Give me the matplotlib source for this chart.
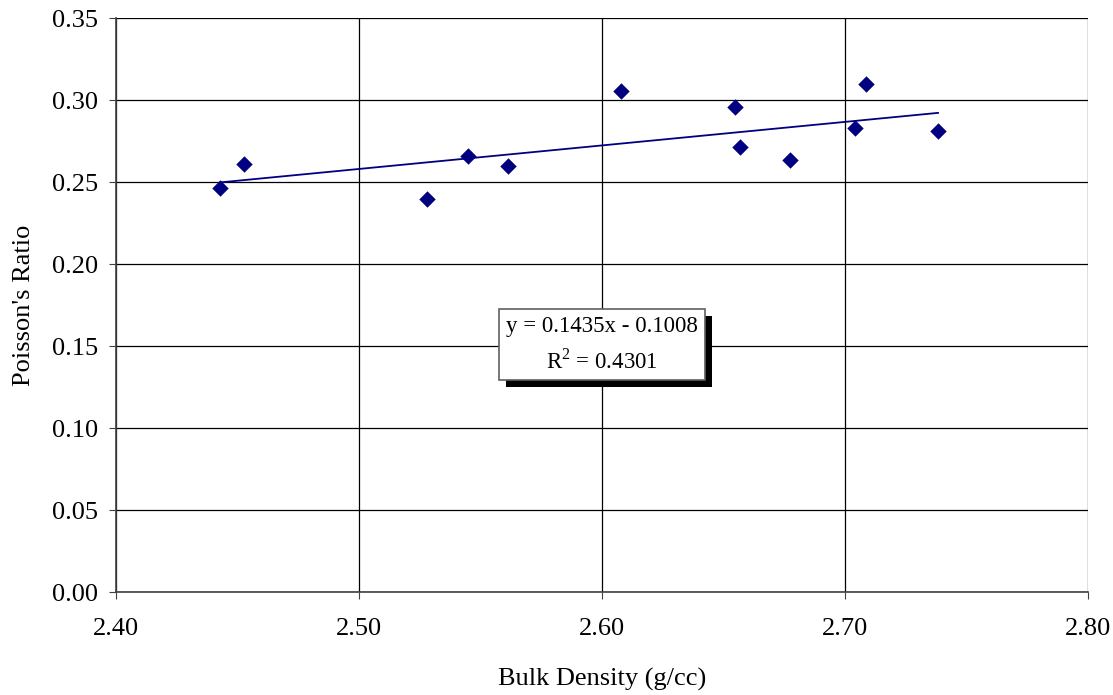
import matplotlib
matplotlib.use("Agg")
import numpy as np
import matplotlib.pyplot as plt
import matplotlib.patheffects as pe

plt.rcParams['font.family'] = ['Liberation Serif', 'DejaVu Serif']
plt.rcParams['mathtext.fontset'] = 'custom'
plt.rcParams['mathtext.rm'] = 'Liberation Serif'

density = [2.443, 2.4527, 2.528, 2.5449, 2.5613, 2.6078, 2.6547, 2.6568, 2.6774, 2.7041, 2.7086, 2.7383]
poisson = [0.2463, 0.2610, 0.2396, 0.2659, 0.2598, 0.3055, 0.2957, 0.2713, 0.2634, 0.2829, 0.3098, 0.2811]
slope, intercept = 0.1435, -0.1008

fig = plt.figure(figsize=(11.13, 6.95), dpi=100)
ax = fig.add_axes([0.1042, 0.1482, 0.8733, 0.8259])

ax.scatter(density, poisson, marker='D', s=70, color='#000080', zorder=3, linewidths=0)
xt = np.array([min(density), max(density)])
ax.plot(xt, slope * xt + intercept, color='#000080', lw=1.3, zorder=2)

ax.set_xlim(2.40, 2.80)
ax.set_ylim(0.0, 0.35)
ax.set_xticks(np.arange(2.40, 2.81, 0.10))
ax.set_yticks(np.arange(0.0, 0.351, 0.05))
ax.xaxis.set_major_formatter(plt.FuncFormatter(lambda v, p: f"{v:.2f}"))
ax.yaxis.set_major_formatter(plt.FuncFormatter(lambda v, p: f"{v:.2f}"))
ax.grid(True, color='black', lw=0.9)
ax.set_axisbelow(True)
for s in ['top', 'right']:
    ax.spines[s].set_visible(False)
for s in ['left', 'bottom']:
    ax.spines[s].set_color('#404040')
    ax.spines[s].set_linewidth(1.2)
ax.tick_params(axis='both', labelsize=19, direction='out', length=5, color='#404040')
ax.tick_params(axis='x', pad=14)
ax.tick_params(axis='y', pad=8)

ax.set_xlabel('Bulk Density (g/cc)', fontsize=19, labelpad=20)
ax.set_ylabel("Poisson's Ratio", fontsize=19, labelpad=12)

t = ax.text(2.6, 0.1508, 'y = 0.1435x - 0.1008\nR$^2$ = 0.4301', fontsize=16.5,
            ha='center', va='center', linespacing=1.6, zorder=5,
            bbox=dict(boxstyle='square,pad=0.3', fc='white', ec='#606060', lw=1.2))
t.get_bbox_patch().set_path_effects([pe.SimplePatchShadow(offset=(5, -5), shadow_rgbFace='black', alpha=1), pe.Normal()])

fig.savefig('out.png', dpi=100)
